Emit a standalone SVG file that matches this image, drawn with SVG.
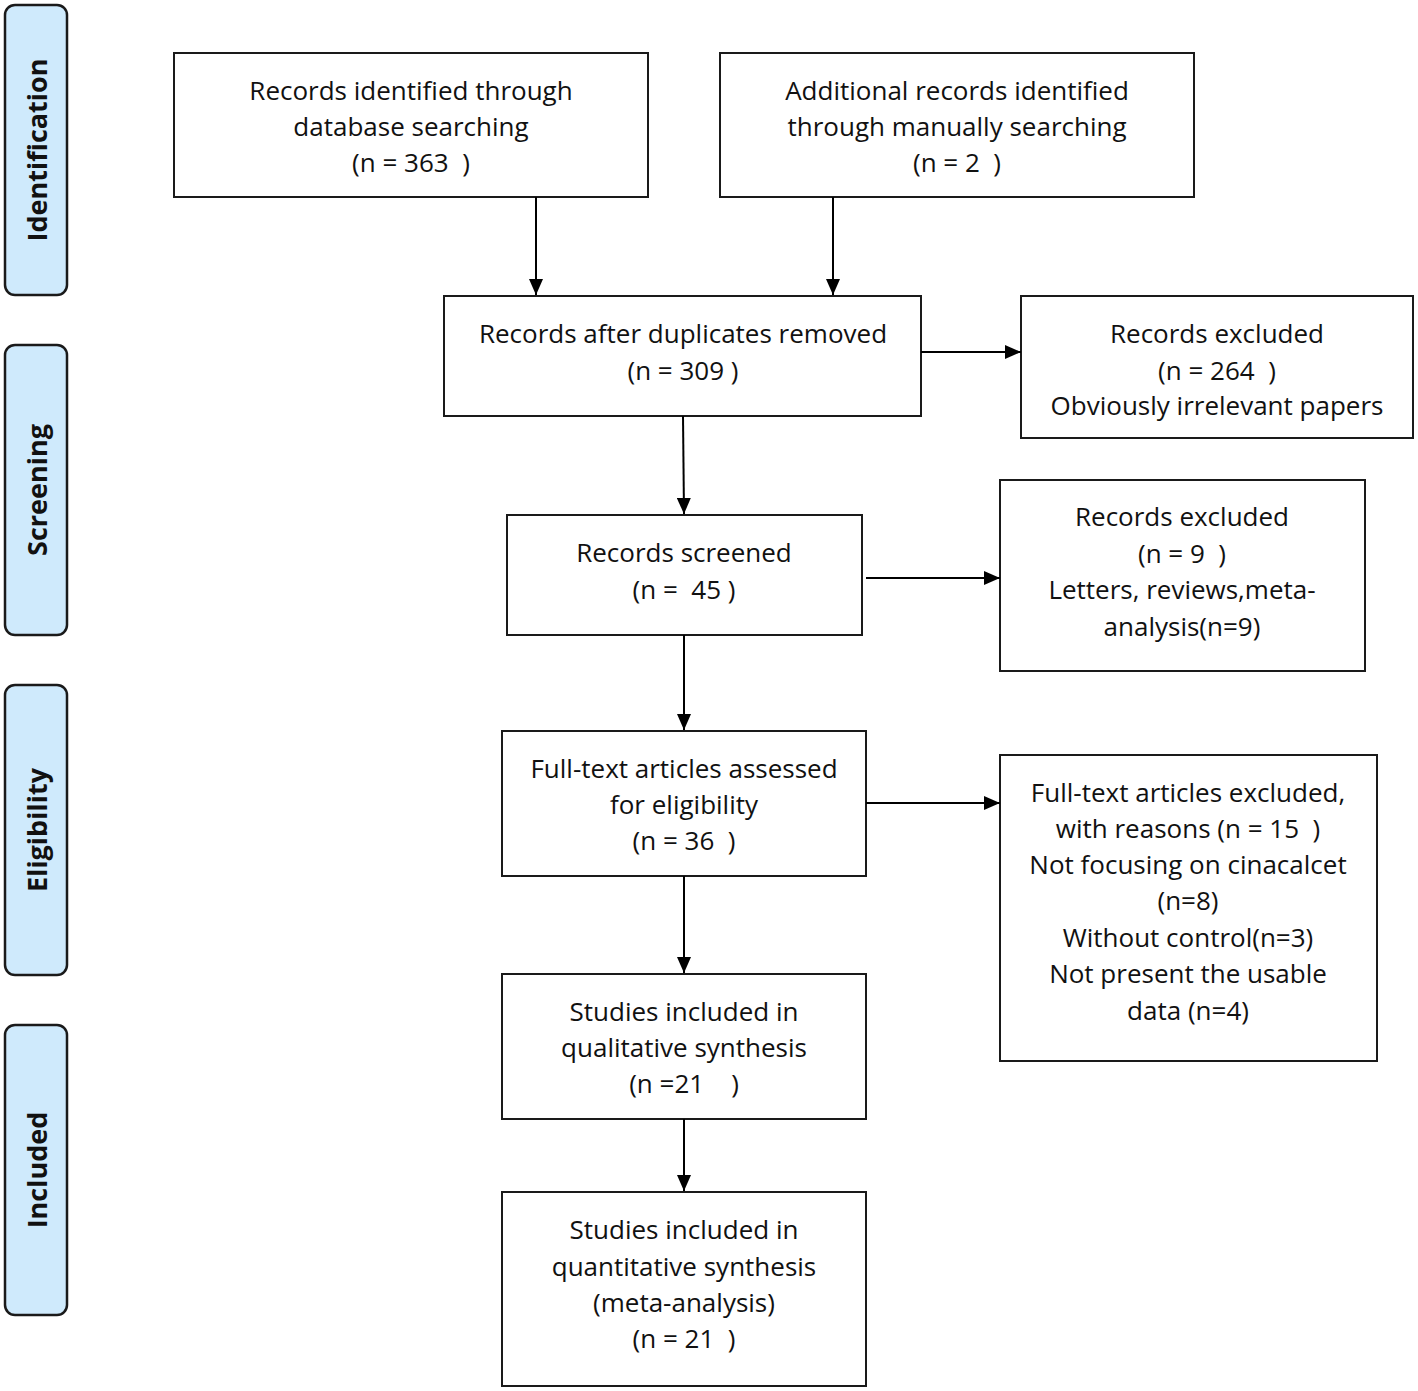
<svg xmlns="http://www.w3.org/2000/svg" width="1418" height="1391" viewBox="0 0 1418 1391">
<defs>
<marker id="ah" markerWidth="16" markerHeight="14" refX="16" refY="7" orient="auto" markerUnits="userSpaceOnUse">
<path d="M0,0 L16,7 L0,14 Z" fill="#000"/>
</marker>
<style>
.box{fill:#fff;stroke:#1a1a1a;stroke-width:2}
.side{fill:#cfeafc;stroke:#1a1a1a;stroke-width:2.5}
.t{font-family:"Open Sans","Liberation Sans",sans-serif;font-size:26px;fill:#111;text-anchor:middle;white-space:pre}
.st{font-family:"Open Sans","Liberation Sans",sans-serif;font-size:27px;font-weight:bold;fill:#111;text-anchor:middle}
.c{stroke:#000;stroke-width:2;fill:none;marker-end:url(#ah)}
</style>
</defs>
<rect width="1418" height="1391" fill="#fff"/>
<g id="phase-identification"><rect class="side" x="5" y="5" width="62" height="290" rx="10"/><text class="st" transform="translate(47,150) rotate(-90)">Identification</text></g>
<g id="phase-screening"><rect class="side" x="5" y="345" width="62" height="290" rx="10"/><text class="st" transform="translate(47,490) rotate(-90)">Screening</text></g>
<g id="phase-eligibility"><rect class="side" x="5" y="685" width="62" height="290" rx="10"/><text class="st" transform="translate(47,830) rotate(-90)">Eligibility</text></g>
<g id="phase-included"><rect class="side" x="5" y="1025" width="62" height="290" rx="10"/><text class="st" transform="translate(47,1170) rotate(-90)">Included</text></g>

<g id="n-db"><rect class="box" x="174" y="53" width="474" height="144"/>
<text class="t" x="411" y="100">Records identified through</text><text class="t" x="411" y="136">database searching</text><text class="t" x="411" y="172">(n = 363  )</text></g>
<g id="n-manual"><rect class="box" x="720" y="53" width="474" height="144"/>
<text class="t" x="957" y="100">Additional records identified</text><text class="t" x="957" y="136">through manually searching</text><text class="t" x="957" y="172">(n = 2  )</text></g>
<g id="n-dup"><rect class="box" x="444" y="296" width="477" height="120"/>
<text class="t" x="683" y="343">Records after duplicates removed</text><text class="t" x="683" y="380">(n = 309 )</text></g>
<g id="n-excl1"><rect class="box" x="1021" y="296" width="392" height="142"/>
<text class="t" x="1217" y="343">Records excluded</text><text class="t" x="1217" y="380">(n = 264  )</text><text class="t" x="1217" y="415">Obviously irrelevant papers</text></g>
<g id="n-screened"><rect class="box" x="507" y="515" width="355" height="120"/>
<text class="t" x="684" y="562">Records screened</text><text class="t" x="684" y="599">(n =  45 )</text></g>
<g id="n-excl2"><rect class="box" x="1000" y="480" width="365" height="191"/>
<text class="t" x="1182" y="526">Records excluded</text><text class="t" x="1182" y="563">(n = 9  )</text><text class="t" x="1182" y="599">Letters, reviews,meta-</text><text class="t" x="1182" y="636">analysis(n=9)</text></g>
<g id="n-fulltext"><rect class="box" x="502" y="731" width="364" height="145"/>
<text class="t" x="684" y="778">Full-text articles assessed</text><text class="t" x="684" y="814">for eligibility</text><text class="t" x="684" y="850">(n = 36  )</text></g>
<g id="n-excl3"><rect class="box" x="1000" y="755" width="377" height="306"/>
<text class="t" x="1188" y="802">Full-text articles excluded,</text><text class="t" x="1188" y="838">with reasons (n = 15  )</text><text class="t" x="1188" y="874">Not focusing on cinacalcet</text><text class="t" x="1188" y="910">(n=8)</text><text class="t" x="1188" y="947">Without control(n=3)</text><text class="t" x="1188" y="983">Not present the usable</text><text class="t" x="1188" y="1020">data (n=4)</text></g>
<g id="n-qual"><rect class="box" x="502" y="974" width="364" height="145"/>
<text class="t" x="684" y="1021">Studies included in</text><text class="t" x="684" y="1057">qualitative synthesis</text><text class="t" x="684" y="1093">(n =21    )</text></g>
<g id="n-quant"><rect class="box" x="502" y="1192" width="364" height="194"/>
<text class="t" x="684" y="1239">Studies included in</text><text class="t" x="684" y="1276">quantitative synthesis</text><text class="t" x="684" y="1312">(meta-analysis)</text><text class="t" x="684" y="1348">(n = 21  )</text></g>

<g id="connectors">
<line class="c" x1="536" y1="197" x2="536" y2="295"/>
<line class="c" x1="833" y1="197" x2="833" y2="295"/>
<line class="c" x1="921" y1="352" x2="1021" y2="352"/>
<line class="c" x1="683" y1="416" x2="684" y2="514"/>
<line class="c" x1="866" y1="578" x2="1000" y2="578"/>
<line class="c" x1="684" y1="635" x2="684" y2="730"/>
<line class="c" x1="866" y1="803" x2="1000" y2="803"/>
<line class="c" x1="684" y1="876" x2="684" y2="973"/>
<line class="c" x1="684" y1="1119" x2="684" y2="1191"/>
</g>
</svg>
